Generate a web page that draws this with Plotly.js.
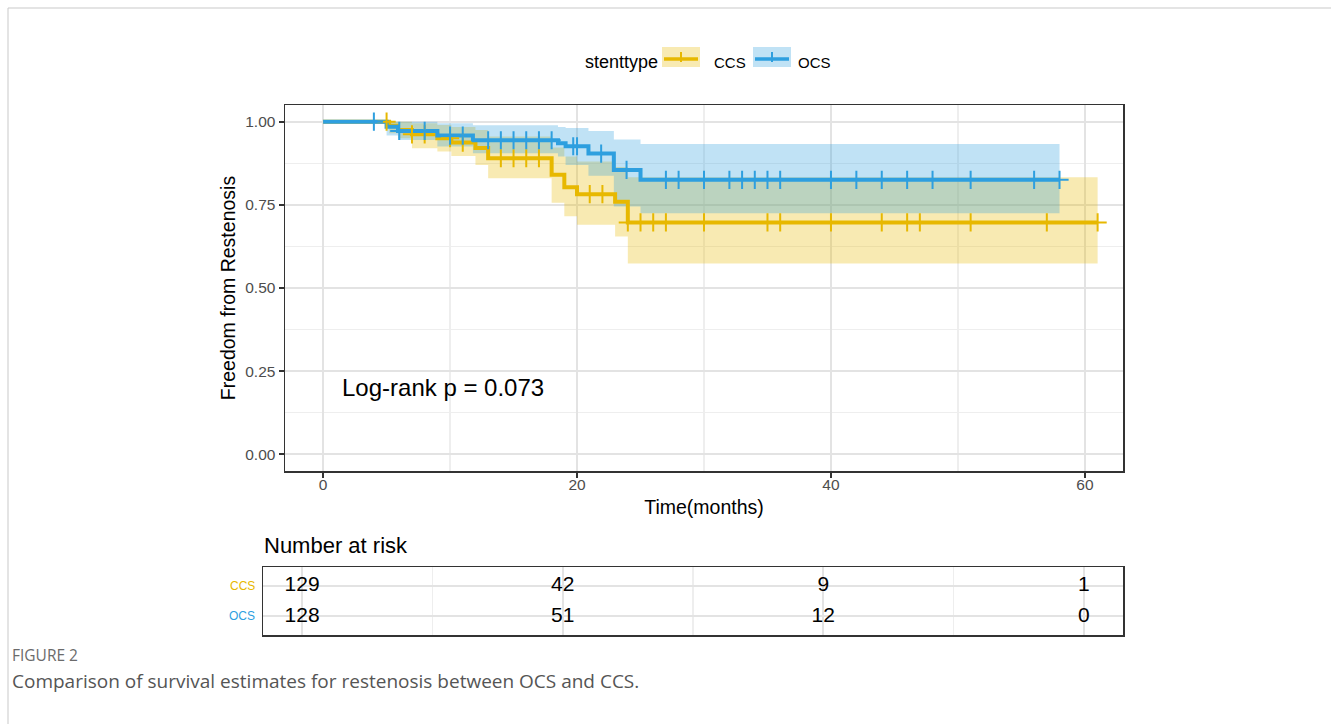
<!DOCTYPE html>
<html>
<head>
<meta charset="utf-8">
<script src="https://cdn.plot.ly/plotly-3.0.1.min.js"></script>
<style>
  html, body { margin: 0; padding: 0; background: #ffffff; }
  #chart { width: 1331px; height: 724px; }
</style>
</head>
<body>
<div id="chart"></div>
<script>
// ---------------- data ----------------
const groupNames = ["CCS", "OCS"];

// Kaplan-Meier steps, CCS group
const ccsTime  = [0, 5.2, 5.9, 7.0, 9.0, 10.1, 12.0, 13.0, 18.0, 19.0, 20.0, 23.0, 24.0, 61.0];
const ccsSurv  = [1.000, 0.988, 0.975, 0.962, 0.950, 0.937, 0.921, 0.890, 0.840, 0.803, 0.782, 0.759, 0.697, 0.697];
const ccsUpper = [1.000, 1.000, 1.000, 0.995, 0.990, 0.984, 0.975, 0.955, 0.922, 0.895, 0.880, 0.864, 0.833, 0.833];
const ccsLower = [1.000, 0.965, 0.950, 0.920, 0.910, 0.897, 0.870, 0.830, 0.756, 0.716, 0.690, 0.655, 0.574, 0.574];
const ccsCensor = [5, 7, 8, 10, 11, 14, 15, 16, 17, 21, 22, 24, 25, 26, 27, 30, 35, 36, 40, 44, 46, 47, 51, 57, 61];

// Kaplan-Meier steps, OCS group
const ocsTime  = [0, 5.0, 5.9, 9.0, 11.8, 18.5, 19.1, 20.9, 22.9, 25.0, 58.0];
const ocsSurv  = [1.000, 0.985, 0.972, 0.958, 0.944, 0.935, 0.926, 0.904, 0.855, 0.825, 0.825];
const ocsUpper = [1.000, 1.000, 1.000, 0.995, 0.989, 0.984, 0.981, 0.972, 0.946, 0.933, 0.933];
const ocsLower = [1.000, 0.958, 0.945, 0.925, 0.905, 0.895, 0.870, 0.837, 0.745, 0.725, 0.725];
const ocsCensor = [4, 6, 8, 10, 11, 13, 14, 15, 16, 17, 18, 19.7, 20, 21.9, 23.9, 27, 28, 30, 32, 33, 34, 35, 36, 40, 42, 44, 46, 48, 51, 56, 58];

// number at risk table
const riskTimes = [0, 20, 40, 60];
const ccsRisk = [129, 42, 9, 1];
const ocsRisk = [128, 51, 12, 0];

const pValueText = "Log-rank p = 0.073";

// ---------------- styling ----------------
const W = 1331, H = 724;
const ORANGE = "#E7B800", BLUE = "#2E9FDF";
const ORANGE_FILL = "rgba(231,184,0,0.30)", BLUE_FILL = "rgba(46,159,223,0.30)";
const FONT = "Liberation Sans, Arial, Helvetica, sans-serif";
const CAPFONT = "Open Sans, Noto Sans, sans-serif";
const px = x => x / W;
const py = y => 1 - y / H;

function stepAt(times, surv, t) {
  let v = surv[0];
  for (let i = 0; i < times.length; i++) { if (times[i] <= t) v = surv[i]; }
  return v;
}

function bandTraces(times, lower, upper, fill) {
  return [
    { x: times, y: lower, type: "scatter", mode: "lines", line: { shape: "hv", width: 0, color: fill },
      hoverinfo: "skip", showlegend: false, xaxis: "x", yaxis: "y" },
    { x: times, y: upper, type: "scatter", mode: "lines", line: { shape: "hv", width: 0, color: fill },
      fill: "tonexty", fillcolor: fill, hoverinfo: "skip", showlegend: false, xaxis: "x", yaxis: "y" }
  ];
}

const traces = [
  ...bandTraces(ccsTime, ccsLower, ccsUpper, ORANGE_FILL),
  ...bandTraces(ocsTime, ocsLower, ocsUpper, BLUE_FILL),
  { x: ccsTime, y: ccsSurv, type: "scatter", mode: "lines", name: groupNames[0],
    line: { shape: "hv", width: 4, color: ORANGE }, showlegend: false },
  { x: ocsTime, y: ocsSurv, type: "scatter", mode: "lines", name: groupNames[1],
    line: { shape: "hv", width: 4, color: BLUE }, showlegend: false },
  { x: ccsCensor, y: ccsCensor.map(t => stepAt(ccsTime, ccsSurv, t)), type: "scatter", mode: "markers",
    marker: { symbol: "cross-thin", size: 13, color: ORANGE, line: { color: ORANGE, width: 2 } },
    showlegend: false, hoverinfo: "skip" },
  { x: ocsCensor, y: ocsCensor.map(t => stepAt(ocsTime, ocsSurv, t)), type: "scatter", mode: "markers",
    marker: { symbol: "cross-thin", size: 13, color: BLUE, line: { color: BLUE, width: 2 } },
    showlegend: false, hoverinfo: "skip" },
  // risk table
  { x: riskTimes, y: riskTimes.map(() => 2), type: "scatter", mode: "text", text: ccsRisk.map(String),
    textfont: { family: FONT, size: 21, color: "#000000" }, textposition: "middle center",
    xaxis: "x2", yaxis: "y2", showlegend: false, hoverinfo: "skip" },
  { x: riskTimes, y: riskTimes.map(() => 1), type: "scatter", mode: "text", text: ocsRisk.map(String),
    textfont: { family: FONT, size: 21, color: "#000000" }, textposition: "middle center",
    xaxis: "x2", yaxis: "y2", showlegend: false, hoverinfo: "skip" }
];

const gridMajor = "#e3e3e3", gridMinor = "#eeeeee";

const layout = {
  width: W, height: H,
  margin: { l: 0, r: 0, t: 0, b: 0 },
  paper_bgcolor: "#ffffff", plot_bgcolor: "#ffffff",
  font: { family: FONT, color: "#000000" },
  showlegend: false,
  xaxis: {
    domain: [px(285), px(1123)], anchor: "y",
    range: [-3, 63], tickvals: [0, 20, 40, 60], ticktext: ["0", "20", "40", "60"],
    ticks: "outside", ticklen: 5, tickwidth: 2, tickcolor: "#333333", ticklabelstandoff: -6,
    tickfont: { family: FONT, size: 15.5, color: "#4d4d4d" },
    showgrid: true, gridcolor: gridMajor, gridwidth: 2,
    minor: { tickvals: [10, 30, 50], showgrid: true, gridcolor: gridMinor, gridwidth: 1.2, ticks: "" },
    zeroline: false, showline: true, mirror: true, linecolor: "#333333", linewidth: 1.5,
    title: { text: "Time(months)", font: { family: FONT, size: 19.5, color: "#000000" }, standoff: 8 },
    automargin: false
  },
  yaxis: {
    domain: [py(471), py(105)], anchor: "x",
    range: [-0.05, 1.05], tickvals: [0, 0.25, 0.5, 0.75, 1], ticktext: ["0.00", "0.25", "0.50", "0.75", "1.00"],
    ticks: "outside", ticklen: 5, tickwidth: 2, tickcolor: "#333333",
    tickfont: { family: FONT, size: 15.5, color: "#4d4d4d" },
    showgrid: true, gridcolor: gridMajor, gridwidth: 2,
    minor: { tickvals: [0.125, 0.375, 0.625, 0.875], showgrid: true, gridcolor: gridMinor, gridwidth: 1.2, ticks: "" },
    zeroline: false, showline: true, mirror: true, linecolor: "#333333", linewidth: 1.5,
    title: { text: "Freedom from Restenosis", font: { family: FONT, size: 19.5, color: "#000000" }, standoff: 4 },
    automargin: false
  },
  xaxis2: {
    domain: [px(263), px(1123)], anchor: "y2",
    range: [-3, 63], tickvals: [0, 20, 40, 60], showticklabels: false, ticks: "",
    showgrid: true, gridcolor: gridMajor, gridwidth: 2,
    minor: { tickvals: [10, 30, 50], showgrid: true, gridcolor: gridMinor, gridwidth: 1.2, ticks: "" },
    zeroline: false, showline: true, mirror: true, linecolor: "#333333", linewidth: 1.5
  },
  yaxis2: {
    domain: [py(635), py(567)], anchor: "x2",
    range: [0.4, 2.6], tickvals: [1, 2], showticklabels: false, ticks: "",
    showgrid: true, gridcolor: gridMajor, gridwidth: 2,
    zeroline: false, showline: true, mirror: true, linecolor: "#333333", linewidth: 1.5
  },
  shapes: [
    // figure frame
    { type: "line", xref: "paper", yref: "paper", x0: px(8), x1: 1, y0: py(8), y1: py(8), line: { color: "#c9c9c9", width: 1 } },
    { type: "line", xref: "paper", yref: "paper", x0: px(8), x1: px(8), y0: py(8), y1: 0, line: { color: "#c9c9c9", width: 1 } },
    // legend keys
    { type: "rect", xref: "paper", yref: "paper", x0: px(662), x1: px(700), y0: py(67), y1: py(47), fillcolor: ORANGE_FILL, line: { width: 0 } },
    { type: "line", xref: "paper", yref: "paper", x0: px(664), x1: px(698), y0: py(59), y1: py(59), line: { color: ORANGE, width: 3.5 } },
    { type: "line", xref: "paper", yref: "paper", x0: px(681), x1: px(681), y0: py(52), y1: py(62), line: { color: ORANGE, width: 2 } },
    { type: "rect", xref: "paper", yref: "paper", x0: px(753), x1: px(791), y0: py(67), y1: py(47), fillcolor: BLUE_FILL, line: { width: 0 } },
    { type: "line", xref: "paper", yref: "paper", x0: px(755), x1: px(789), y0: py(59), y1: py(59), line: { color: BLUE, width: 3.5 } },
    { type: "line", xref: "paper", yref: "paper", x0: px(772), x1: px(772), y0: py(52), y1: py(62), line: { color: BLUE, width: 2 } }
  ],
  annotations: [
    { text: "stenttype", xref: "paper", yref: "paper", x: px(583), y: py(62), xanchor: "left", yanchor: "middle",
      showarrow: false, font: { family: FONT, size: 18, color: "#000000" } },
    { text: groupNames[0], xref: "paper", yref: "paper", x: px(712), y: py(62), xanchor: "left", yanchor: "middle",
      showarrow: false, font: { family: FONT, size: 15, color: "#000000" } },
    { text: groupNames[1], xref: "paper", yref: "paper", x: px(796), y: py(62), xanchor: "left", yanchor: "middle",
      showarrow: false, font: { family: FONT, size: 15, color: "#000000" } },
    { text: pValueText, xref: "x", yref: "y", x: 1.3, y: 0.2, xanchor: "left", yanchor: "middle",
      showarrow: false, font: { family: FONT, size: 24, color: "#000000" } },
    { text: "Number at risk", xref: "paper", yref: "paper", x: px(262), y: py(545), xanchor: "left", yanchor: "middle",
      showarrow: false, font: { family: FONT, size: 22, color: "#000000" } },
    { text: groupNames[0], xref: "paper", yref: "y2", x: px(257), y: 2, xanchor: "right", yanchor: "middle",
      showarrow: false, font: { family: FONT, size: 12, color: ORANGE } },
    { text: groupNames[1], xref: "paper", yref: "y2", x: px(257), y: 1, xanchor: "right", yanchor: "middle",
      showarrow: false, font: { family: FONT, size: 12, color: BLUE } },
    { text: "FIGURE 2", xref: "paper", yref: "paper", x: px(10), y: py(655), xanchor: "left", yanchor: "middle",
      showarrow: false, font: { family: CAPFONT, size: 15.5, color: "#6b6b6b" } },
    { text: "Comparison of survival estimates for restenosis between OCS and CCS.", xref: "paper", yref: "paper",
      x: px(10), y: py(681), xanchor: "left", yanchor: "middle",
      showarrow: false, font: { family: CAPFONT, size: 19, color: "#555555" } }
  ]
};

Plotly.newPlot("chart", traces, layout, { displayModeBar: false, staticPlot: true });
</script>
</body>
</html>
